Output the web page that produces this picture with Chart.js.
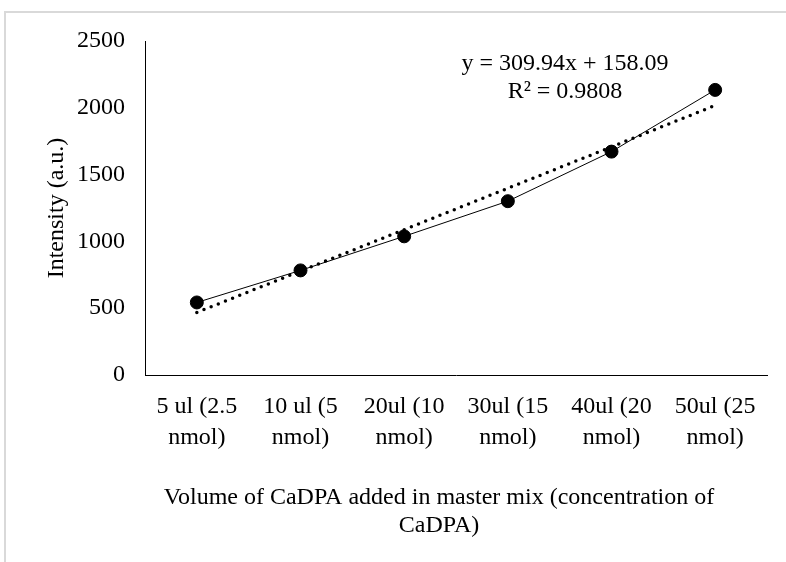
<!DOCTYPE html>
<html><head><meta charset="utf-8">
<script src="https://cdn.jsdelivr.net/npm/chart.js@4.4.1/dist/chart.umd.min.js"></script>
<style>
html,body{margin:0;padding:0;background:#fff;overflow:hidden}
#wrap{position:relative;width:786px;height:562px;overflow:hidden}
#frame{position:absolute;left:4px;top:11px;width:900px;height:700px;border-left:2px solid #d9d9d9;border-top:2px solid #d9d9d9}
canvas{position:absolute;left:0;top:0}
</style></head><body>
<div id="wrap"><div id="frame"></div><canvas id="c" width="786" height="562"></canvas></div>
<script>
const categories = [["5 ul (2.5","nmol)"],["10 ul (5","nmol)"],["20ul (10","nmol)"],["30ul (15","nmol)"],["40ul (20","nmol)"],["50ul (25","nmol)"]];
const intensity = [543, 783, 1038, 1301, 1672, 2134];
const trendValues = [468.0, 778.0, 1087.9, 1397.8, 1707.8, 2017.7];
const yMin = 0, yMax = 2500, yStep = 500;
const equationLines = ["y = 309.94x + 158.09", "R\u00B2 = 0.9808"];
const xTitleLines = ["Volume of CaDPA added in master mix (concentration of", "CaDPA)"];
const yTitle = "Intensity (a.u.)";

const FONT = '"Liberation Serif", "Times New Roman", serif';

const textPlugin = {
  id: 'texts',
  afterDraw(chart) {
    const {ctx, chartArea} = chart;
    ctx.save();
    ctx.fillStyle = '#000';
    ctx.font = '24px ' + FONT;
    ctx.textAlign = 'center';
    ctx.textBaseline = 'middle';
    // trendline equation
    const ex = chartArea.left + 420;
    ctx.fillText(equationLines[0], ex, chartArea.top + 22.5);
    ctx.fillText(equationLines[1], ex, chartArea.top + 51);
    // x axis title
    const tx = chartArea.left + 294;
    ctx.fillText(xTitleLines[0], tx, chartArea.bottom + 122.5);
    ctx.fillText(xTitleLines[1], tx, chartArea.bottom + 151);
    ctx.restore();
  }
};

new Chart(document.getElementById('c'), {
  type: 'line',
  data: {
    labels: categories,
    datasets: [
      {
        label: 'Intensity',
        data: intensity,
        borderColor: '#000',
        backgroundColor: '#000',
        borderWidth: 1,
        pointRadius: 6.5,
        pointBorderWidth: 1,
        pointBackgroundColor: '#000',
        pointBorderColor: '#000',
        tension: 0,
        fill: false
      },
      {
        label: 'Linear (Intensity)',
        data: trendValues,
        borderColor: '#000',
        borderWidth: 3.5,
        borderDash: [0, 7.7],
        borderCapStyle: 'round',
        pointRadius: 0,
        tension: 0,
        fill: false
      }
    ]
  },
  options: {
    responsive: false,
    animation: false,
    devicePixelRatio: 1,
    layout: {padding: {top: 41, right: 19, left: 0, bottom: 0}},
    plugins: {legend: {display: false}, tooltip: {enabled: false}},
    scales: {
      x: {
        type: 'category',
        offset: true,
        grid: {display: false, drawTicks: false},
        border: {display: true, color: '#000', width: 1},
        ticks: {
          color: '#000',
          font: {family: FONT, size: 24, lineHeight: 1.27},
          padding: 16.5,
          maxRotation: 0,
          minRotation: 0,
          autoSkip: false
        },
        afterFit(s) { s.height = 187; }
      },
      y: {
        min: yMin,
        max: yMax,
        grid: {display: false, drawTicks: false},
        border: {display: true, color: '#000', width: 1},
        ticks: {
          stepSize: yStep,
          color: '#000',
          font: {family: FONT, size: 24},
          padding: 20,
          callback: (v) => String(v)
        },
        title: {
          display: true,
          text: yTitle,
          color: '#000',
          font: {family: FONT, size: 24, lineHeight: 1.2},
          padding: {top: 42.6, bottom: 0}
        },
        afterFit(s) { s.width = 145; }
      }
    }
  },
  plugins: [textPlugin]
});
</script>
</body></html>
